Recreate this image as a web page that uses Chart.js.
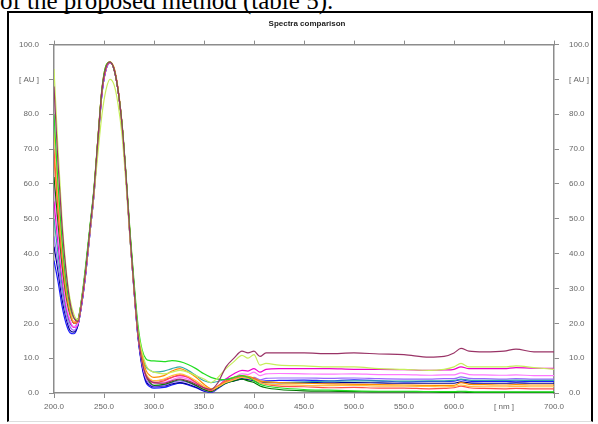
<!DOCTYPE html>
<html>
<head>
<meta charset="utf-8">
<script src="https://cdn.jsdelivr.net/npm/chart.js@4.4.1/dist/chart.umd.min.js"></script>
<style>
  html, body { margin: 0; padding: 0; background: #fff; width: 598px; height: 424px; overflow: hidden; }
  #caption { position: absolute; left: 0px; top: -12px; font-family: 'Liberation Serif', 'Times New Roman', serif; font-size: 25px; line-height: 25px; color: #000; white-space: nowrap; }
  #box { position: absolute; left: 7px; top: 11px; width: 582px; height: 408px; border-left: 2px solid #000; border-top: 2px solid #000; border-right: 2px solid #000; border-bottom: 1px solid #ddd; }
  #c { position: absolute; left: 0; top: 0; }
</style>
</head>
<body>
<div id="caption">of the proposed method (table 5).</div>
<div id="box"></div>
<canvas id="c" width="598" height="424"></canvas>
<script>
const wavelengths = [200,204,208,212,216,220,224,228,232,236,240,244,248,252,256,260,264,268,272,276,280,284,288,292,296,300,310,318,326,334,342,350,357,364,372,380,388,394,400,406,412,425,450,475,500,525,550,575,590,600,607,615,630,650,662,680,700];

const brown = [88,66,48,35,26,21.5,20.5, 27,36,47,58,73,87,93.5,95,93,87,77,62,45,30,17,9, 5,3.5,3, 2.8,3.5,4,3.5,2.5,1.5,1,3,7.5,10,12,11.5,12,10.5,11.5,11.5,11.5,11.3,11.5,11.2,11,10.3,10.5,11.5,12.8,12,11.8,12,12.6,11.8,11.8];
const yellowGreen = [93,70,50,36,27,22.5,21, 27.5,36,46.5,57,69,80,87,90,88.5,83,74,60,44,30,18,12, 8,6.5,6, 5.5,6,6.5,6,5,4,3,4.5,7,9,10.8,10,11,8,8.5,8,7.8,7.5,7.5,7,6.8,6.5,6.8,7.5,8.5,7.5,7.5,7.5,7.8,7.3,6.8];
const green = [80,60,44,32,25,21.5,21, 28,37.5,48,59,73.5,87.5,94,95,93,87,77.5,63,46.5,32,19.5,12.5, 9.8,9.3,9.2, 9,9.3,9,8.2,7,5.5,4.5,4,3.8,4.5,5,4.5,3.5,2.5,2,1.5,1,0.8,0.6,0.5,0.5,0.4,0.4,0.4,0.5,0.4,0.3,0.3,0.3,0.3,0.3];
const lightOrange = [75,57,42,31,24,20.5,20.5, 27,36,47,58,73,87,93.5,95,93,87,77,62,45,30,17,9.5, 5.5,4,3.5, 4,5,5.5,4.8,3.5,2,1,1.8,3,3.8,4.5,4.2,3.8,3,2.6,2.4,2.2,2.1,2.2,2,2,1.9,1.8,1.9,2.3,1.9,1.8,1.8,1.9,1.8,1.8];
const red = [70,54,40,30,23.5,20,20.5, 27,36,47,58,73,87,93.5,95,93,87,77,62,45,30,17,9.5, 5,3.5,3, 3.5,4.5,5.2,4.5,3,1.5,0.7,1.8,3.2,4,4.8,4.5,4,3,2.5,2,1.8,1.5,1.6,1.4,1.4,1.2,1.3,1.5,2,1.5,1.3,1.2,1.3,1.2,1.2];
const orange = [68,52,39,29,23,20,21, 27.5,36.5,47.5,58.5,73.5,87.5,94,95,93.5,87.5,77.5,62.5,46,31,18,11, 6.5,5,4.5, 5,6.3,7,6,4.5,2.5,1.2,2,3.5,4.5,5,4.8,4.3,3.5,3.2,3,2.8,2.6,2.5,2.4,2.3,2.2,2.2,2.2,3,2.5,2.4,2.3,2.4,2.3,2.3];
const darkGreen = [62,49,37,28,22.5,20,21, 27.5,36.5,47.5,58.5,73,87,93.5,95,93,87,77,62,45.5,30.5,17.5,10, 5,3,2.2, 2.5,3.2,3.8,3.2,2.2,1,0.4,1.5,2.8,3.5,4,3.5,3,2,1.5,1,0.6,0.5,0.4,0.3,0.3,0.3,0.2,0.2,0.3,0.2,0.2,0.2,0.2,0.2,0.2];
const pink = [60,46,35,26,21,19,20, 26.5,35.5,46.5,57.5,72.5,86.5,93,94.8,93,87,77,62,45,30,17,9, 4.5,3.2,2.8, 3,3.8,4.5,4,2.8,1.2,0.5,1.8,3.5,4.5,5.5,5.3,6,5,5.5,5.6,5.5,5.4,5.5,5.3,5.3,5.1,5.2,5.2,5.8,5.3,5.2,5.1,5.2,5,5];
const magenta = [55,43,33,25,20.5,18.8,20, 26.5,35.5,46.5,57.5,72.5,86.5,93,94.8,93,87,77,62,45,30,17,9.5, 5,3.8,3.5, 3.8,4.5,5,4.5,3,1.5,0.6,2,4,5.5,6.5,6.3,7,6,6.8,7,7,7,6.8,6.8,6.7,6.5,6.6,6.8,7.5,7,7,7,7.3,7.1,7.1];
const teal = [50,40,31,24,20,19,21, 27.5,36.5,47.5,58,73,87,93.5,95,93,87,77,62,45.5,31,18,11, 7.5,6.5,6, 6.3,7,7.5,6.5,5,3.5,3,3.3,4,4.3,4.5,4.3,4,3.3,3.2,3,3.2,3.4,3.5,3.5,3.4,3.5,3.5,3.6,4,3.7,3.6,3.6,3.7,3.6,3.6];
const violet = [45,37,29,22.5,19,18,20, 26.5,35.5,46.5,57.5,72.5,86.5,93,94.8,93,87,77,62,45,30,16.5,8.5, 4,2.5,2, 2.2,3,3.5,3,2,0.8,0.3,1.5,3,3.8,4.5,4.2,4.5,3.8,4.2,4.3,4.3,4.2,4.3,4.1,4,4,4.1,4.1,4.6,4.2,4.1,4,4.1,4,4];
const navy = [42,35,27,21.5,18,17.5,19.5, 26,35,46,57,72,86,92.8,94.8,93,87,77,62,44.5,29.5,16,8, 3.5,2.2,1.8, 2,2.6,3,2.5,1.7,0.7,0.3,1.5,3,3.5,4,3.8,3.5,3,3,3,3,2.9,3,2.9,2.8,2.8,2.8,2.8,3.2,2.9,2.8,2.8,2.9,2.8,2.8];
const blue = [38,32,25,20,17.3,17,19.5, 26,35,46,57,72,86,92.8,94.8,93,87,77,62,44.5,29.5,16,7.5, 3,1.8,1.4, 1.6,2.3,2.8,2.3,1.5,0.5,0.2,1.3,2.8,3.6,4.2,4,4.2,3.3,3.5,3.6,3.7,3.5,3.8,3.5,3.2,3.3,3.3,3.4,3.8,3.4,3.3,3.3,3.4,3.3,3.3];

const seriesList = [brown, yellowGreen, green, lightOrange, red, orange, darkGreen, pink, magenta, teal, violet, navy, blue];
const seriesColors = ['#993366', '#c6ee5a', '#22dd22', '#ffc040', '#ff4d4d', '#ff8a00', '#007a00', '#ff77ff', '#ee00cc', '#33aaaa', '#9966ff', '#000090', '#1a1aff'];

const xTicksLabel = v => (v === 650 ? '[ nm ]' : v.toFixed(1));
const yTicksLabel = v => (v === 90 ? '[ AU ]' : v.toFixed(1));

const datasets = seriesList.map((vals, i) => ({
  data: vals.map((v, k) => ({ x: wavelengths[k], y: v })),
  borderColor: seriesColors[i],
  borderWidth: 1.2,
  pointRadius: 0,
  fill: false,
  cubicInterpolationMode: 'monotone'
}));

const tickFont = { family: "'Liberation Sans', Arial, sans-serif", size: 8 };
const axisColor = '#8c8c8c';

new Chart(document.getElementById('c'), {
  type: 'line',
  data: { datasets },
  options: {
    responsive: false,
    animation: false,
    events: [],
    layout: { padding: { left: 16, right: 0, top: 0, bottom: 0 } },
    plugins: {
      legend: { display: false },
      tooltip: { enabled: false },
      title: {
        display: true,
        text: 'Spectra comparison',
        color: '#222',
        font: { family: "'Liberation Sans', Arial, sans-serif", size: 8, weight: 'bold', lineHeight: 1.2 },
        padding: { top: 19, bottom: 0 }
      }
    },
    scales: {
      x: {
        type: 'linear', position: 'bottom', min: 200, max: 700,
        ticks: { stepSize: 50, callback: xTicksLabel, color: '#666', font: tickFont, padding: 4, maxRotation: 0, autoSkip: false },
        grid: { drawOnChartArea: false, drawTicks: true, tickLength: 5, color: axisColor },
        border: { display: true, color: axisColor, width: 1.5 },
        afterFit: s => { s.height = 31; }
      },
      x2: {
        type: 'linear', position: 'top', min: 200, max: 700,
        ticks: { stepSize: 50, display: false },
        grid: { drawOnChartArea: false, drawTicks: true, tickLength: 4, color: axisColor },
        border: { display: true, color: axisColor, width: 1.5 },
        afterFit: s => { s.height = 16; }
      },
      y: {
        type: 'linear', position: 'left', min: 0, max: 100,
        ticks: { stepSize: 10, callback: yTicksLabel, color: '#666', font: tickFont, padding: 10 },
        grid: { drawOnChartArea: false, drawTicks: true, tickLength: 5, color: axisColor },
        border: { display: true, color: axisColor, width: 1.5 },
        afterFit: s => { s.width = 38; }
      },
      y2: {
        type: 'linear', position: 'right', min: 0, max: 100,
        ticks: { stepSize: 10, callback: yTicksLabel, color: '#666', font: tickFont, padding: 10 },
        grid: { drawOnChartArea: false, drawTicks: true, tickLength: 5, color: axisColor },
        border: { display: true, color: axisColor, width: 1.5 },
        afterFit: s => { s.width = 44; }
      }
    }
  }
});
</script>
</body>
</html>
